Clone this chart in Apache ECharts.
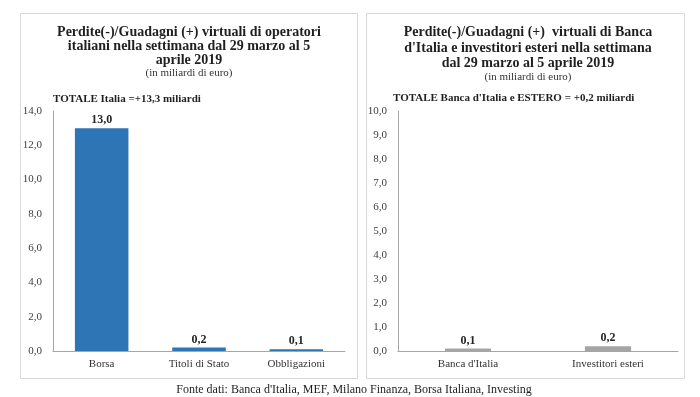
<!DOCTYPE html>
<html>
<head>
<meta charset="utf-8">
<script src="https://cdn.jsdelivr.net/npm/echarts@6/dist/echarts.min.js"></script>
<style>
  html, body { margin: 0; padding: 0; background: #fff; }
  #chart { width: 700px; height: 397px; }
</style>
</head>
<body>
<div id="chart"></div>
<script>
// dati
var catItalia = ['Borsa', 'Titoli di Stato', 'Obbligazioni'];
var valItalia = [13.0, 0.2, 0.1];
var catEstero = ["Banca d'Italia", 'Investitori esteri'];
var valEstero = [0.1, 0.2];

var serif = 'Liberation Serif';

function virgola(v) {
    return v.toFixed(1).replace('.', ','); // 13.0 -> 13,0
}

function asseY(idx, max, step) {
    return {
        type: 'value', gridIndex: idx, min: 0, max: max, interval: step,
        axisLine: { show: true, lineStyle: { color: '#a6a6a6' } },
        axisTick: { show: false },
        splitLine: { show: false },
        axisLabel: { fontFamily: serif, fontSize: 11, color: '#404040', margin: 11,
            formatter: function (v) { return virgola(v); } }
    };
}

function asseX(idx, data) {
    return {
        type: 'category', gridIndex: idx, data: data,
        axisLine: { lineStyle: { color: '#a6a6a6' } },
        axisTick: { show: false },
        axisLabel: { fontFamily: serif, fontSize: 11, color: '#333', margin: 8 }
    };
}

var etichetta = {
    show: true, position: 'top', distance: 2,
    fontFamily: serif, fontWeight: 'bold', fontSize: 12, color: '#262626',
    formatter: function (p) { return virgola(p.value); }
};

var myChart = echarts.init(document.getElementById('chart'), null, { renderer: 'canvas' });

var option = {
    animation: false,
    backgroundColor: '#fff',
    title: [{
        text: 'Perdite(-)/Guadagni (+) virtuali di operatori\nitaliani nella settimana dal 29 marzo al 5\naprile 2019',
        left: 189, top: 25, textAlign: 'center', padding: 0,
        textStyle: { fontFamily: serif, fontWeight: 'bold', fontSize: 14, lineHeight: 14, color: '#1f1f1f' },
        subtext: '(in miliardi di euro)', itemGap: 1,
        subtextStyle: { fontFamily: serif, fontSize: 11, color: '#333' }
    }, {
        text: "Perdite(-)/Guadagni (+)  virtuali di Banca\nd'Italia e investitori esteri nella settimana\ndal 29 marzo al 5 aprile 2019",
        left: 528, top: 25, textAlign: 'center', padding: 0,
        textStyle: { fontFamily: serif, fontWeight: 'bold', fontSize: 14, lineHeight: 15.5, color: '#1f1f1f' },
        subtext: '(in miliardi di euro)', itemGap: 0,
        subtextStyle: { fontFamily: serif, fontSize: 11, color: '#333' }
    }, {
        text: 'TOTALE Italia =+13,3 miliardi', left: 53, top: 94, padding: 0,
        textStyle: { fontFamily: serif, fontWeight: 'bold', fontSize: 11, color: '#1f1f1f' }
    }, {
        text: "TOTALE Banca d'Italia e ESTERO = +0,2 miliardi", left: 393, top: 93, padding: 0,
        textStyle: { fontFamily: serif, fontWeight: 'bold', fontSize: 11, color: '#1f1f1f' }
    }, {
        text: "Fonte dati: Banca d'Italia, MEF, Milano Finanza, Borsa Italiana, Investing",
        left: 354, top: 384, textAlign: 'center', padding: 0,
        textStyle: { fontFamily: serif, fontWeight: 'normal', fontSize: 12, color: '#1f1f1f' }
    }],
    graphic: [
        { type: 'rect', shape: { x: 20.5, y: 13.5, width: 337, height: 365 }, z: -1,
          style: { fill: '#fff', stroke: '#d9d9d9', lineWidth: 1 } },
        { type: 'rect', shape: { x: 366.5, y: 13.5, width: 318, height: 365 }, z: -1,
          style: { fill: '#fff', stroke: '#d9d9d9', lineWidth: 1 } }
    ],
    grid: [
        { left: 53, right: 355, top: 111, bottom: 46 },
        { left: 398, right: 22, top: 111, bottom: 46 }
    ],
    xAxis: [asseX(0, catItalia), asseX(1, catEstero)],
    yAxis: [asseY(0, 14, 2), asseY(1, 10, 1)],
    series: [{
        type: 'bar', xAxisIndex: 0, yAxisIndex: 0, data: valItalia,
        barWidth: '55%', itemStyle: { color: '#2e75b6' }, label: etichetta
    }, {
        type: 'bar', xAxisIndex: 1, yAxisIndex: 1, data: valEstero,
        barWidth: '33%', itemStyle: { color: '#a5a5a5' }, label: etichetta
    }]
};

myChart.setOption(option);
</script>
</body>
</html>
